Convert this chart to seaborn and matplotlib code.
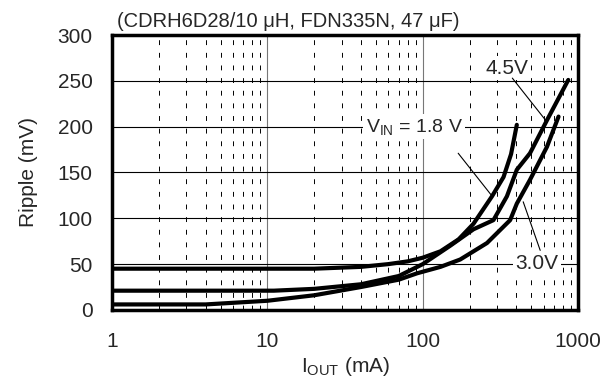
import pandas as pd
import matplotlib
matplotlib.use('Agg')
import matplotlib.pyplot as plt
import matplotlib.ticker as mticker
import seaborn as sns

# data (I_OUT in mA, ripple in mV)
i_18 = [1, 20, 40, 60, 80, 100, 130, 170, 212, 279, 331, 370, 403]
r_18 = [45, 45, 47, 50, 53, 57, 64, 77, 94, 124, 145, 170, 202]

i_30 = [1, 4, 10, 20, 40, 70, 92, 130, 174, 259, 365, 403, 490, 630, 748]
r_30 = [6, 6, 10, 16, 25, 33, 40, 47, 55, 73, 98, 116, 142, 178, 211]

i_45 = [1, 11, 20, 40, 70, 100, 150, 212, 285, 348, 403, 490, 630, 864]
r_45 = [21, 21, 23, 28, 37, 50, 70, 88, 98, 124, 153, 171, 207, 251]

y_ticks = [0, 50, 100, 150, 200, 250, 300]
x_ticks = [1, 10, 100, 1000]
x_ticklabels = ['1', '10', '100', '1000']

df = pd.concat([
    pd.DataFrame({'iout': i_18, 'ripple': r_18, 'vin': '1.8 V'}),
    pd.DataFrame({'iout': i_30, 'ripple': r_30, 'vin': '3.0 V'}),
    pd.DataFrame({'iout': i_45, 'ripple': r_45, 'vin': '4.5 V'}),
])

sns.set_style('white')
plt.rcParams['font.family'] = ['Liberation Sans', 'DejaVu Sans']
plt.rcParams['mathtext.fontset'] = 'custom'
plt.rcParams['mathtext.rm'] = 'Liberation Sans'
plt.rcParams['mathtext.it'] = 'Liberation Sans:italic'
plt.rcParams['mathtext.bf'] = 'Liberation Sans:bold'

fig, ax = plt.subplots(figsize=(6.06, 3.85), dpi=100)
fig.subplots_adjust(left=0.185, right=0.954, bottom=0.195, top=0.909)

sns.lineplot(data=df, x='iout', y='ripple', units='vin', estimator=None,
             color='black', lw=3, ax=ax, sort=False)

ax.set_xscale('log')
ax.set_xlim(1, 1000)
ax.set_ylim(0, 300)
ax.set_yticks(y_ticks)
ax.set_xticks(x_ticks)
ax.set_xticklabels(x_ticklabels)
ax.xaxis.set_minor_locator(mticker.LogLocator(base=10, subs=range(2, 10)))
ax.xaxis.set_minor_formatter(mticker.NullFormatter())
ax.tick_params(axis='both', which='both', length=0, labelsize=15)
ax.tick_params(axis='x', pad=16)
ax.tick_params(axis='y', pad=14)

ax.set_axisbelow(True)
ax.grid(which='major', axis='x', color='#777777', ls='-', lw=0.8)
ax.grid(which='minor', axis='x', color='black', ls=(0, (5, 8)), lw=0.7)
ax.grid(which='major', axis='y', color='black', ls='-', lw=0.8)
for s in ax.spines.values():
    s.set_linewidth(2.5)
    s.set_color('black')

ax.set_xlabel(r'I$_{\rm OUT}$ (mA)', fontsize=15, labelpad=3)
ax.set_ylabel('Ripple (mV)', fontsize=15, labelpad=14)

ax.text(0.01, 1.015, '(CDRH6D28/10 μH, FDN335N, 47 μF)', transform=ax.transAxes,
        fontsize=14.5, ha='left', va='bottom')

box = dict(facecolor='white', edgecolor='none', pad=2)
ax.text(349, 264, '4.5V', fontsize=15, ha='center', va='center', bbox=box)
ax.annotate('', xy=(631, 205), xytext=(377, 253),
            arrowprops=dict(arrowstyle='-', lw=0.8, color='black', shrinkA=0, shrinkB=0))
ax.text(88, 200, r'V$_{\rm IN}$ = 1.8 V', fontsize=14, ha='center', va='center', bbox=box)
ax.annotate('', xy=(280, 124), xytext=(169, 171),
            arrowprops=dict(arrowstyle='-', lw=0.8, color='black', shrinkA=0, shrinkB=0))
ax.text(545, 51, '3.0V', fontsize=15, ha='center', va='center', bbox=box)
ax.annotate('', xy=(443, 118), xytext=(570, 65),
            arrowprops=dict(arrowstyle='-', lw=0.8, color='black', shrinkA=0, shrinkB=0))

leg = ax.get_legend()
if leg is not None:
    leg.remove()

plt.savefig('out.png', dpi=100)
